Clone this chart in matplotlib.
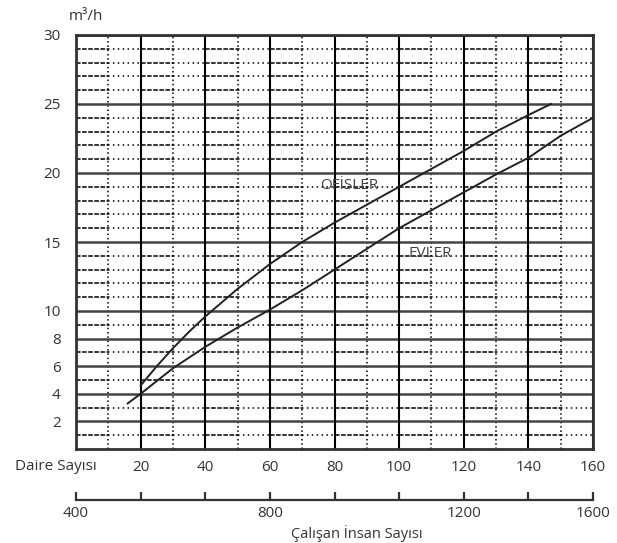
import numpy as np
import matplotlib
matplotlib.use('Agg')
from matplotlib import pyplot as plt

# Values
daire_ticks = [20, 40, 60, 80, 100, 120, 140, 160]
y_ticks = [2, 4, 6, 8, 10, 15, 20, 25, 30]
calisan_values = [400, 800, 1200, 1600]
calisan_at_daire = [0, 60, 120, 160]

ofis_x = [20, 25, 30, 35, 40, 50, 60, 70, 80, 100, 110, 120, 130, 140, 147]
ofis_y = [4.6, 6.0, 7.3, 8.5, 9.6, 11.6, 13.4, 15.0, 16.4, 19.0, 20.3, 21.6, 23.0, 24.2, 25.0]

ev_x = [16, 20, 30, 40, 50, 60, 70, 80, 100, 110, 120, 130, 140, 150, 160]
ev_y = [3.3, 4.0, 5.85, 7.4, 8.8, 10.1, 11.5, 13.0, 16.0, 17.3, 18.6, 19.9, 21.1, 22.7, 24.0]

plt.rcParams['font.family'] = ['Open Sans', 'DejaVu Sans']
txt = '#333333'
fs = 11

W, H = 617, 543
fig = plt.figure(figsize=(W / 100, H / 100), dpi=100)
left, right, top, bottom = 76, 593, 35, 449
ax = fig.add_axes([left / W, 1 - bottom / H, (right - left) / W, (bottom - top) / H])
ax.set_xlim(0, 160)
ax.set_ylim(0, 30)

# minor horizontal lines: dashed / dotted in alternating 10-unit blocks
minor_y = [v for v in range(1, 30) if v not in y_ticks]
for yv in minor_y:
    for x0 in range(0, 160, 20):
        ax.plot([x0, x0 + 10], [yv, yv], color='black', lw=1.1,
                linestyle=(0, (3, 1)), zorder=1)
        ax.plot([x0 + 10, x0 + 20], [yv, yv], color='black', lw=1.1,
                linestyle=(0, (1, 2.2)), zorder=1)

# minor vertical lines
for xv in range(10, 160, 20):
    ax.axvline(xv, color='black', lw=1.1, linestyle=(0, (1, 1.8)), zorder=1)

# major lines
for yv in y_ticks:
    ax.axhline(yv, color='#444444', lw=1.8, zorder=2)
for xv in daire_ticks:
    ax.axvline(xv, color='black', lw=1.5, zorder=2)

ax.plot(ofis_x, ofis_y, color='#222222', lw=1.4, zorder=3)
ax.plot(ev_x, ev_y, color='#222222', lw=1.4, zorder=3)

ax.text(84.5, 19.1, 'OFİSLER', color='#444444', fontsize=fs,
        ha='center', va='center', zorder=4)
ax.text(109.5, 14.2, 'EVLER', color='#444444', fontsize=fs,
        ha='center', va='center', zorder=4)

for s in ax.spines.values():
    s.set_linewidth(2)
    s.set_color('#333333')

ax.set_xticks(daire_ticks)
ax.set_xticklabels([str(v) for v in daire_ticks], color=txt, fontsize=fs)
ax.set_yticks(y_ticks)
ax.set_yticklabels([str(v) for v in y_ticks], color=txt, fontsize=fs)
ax.tick_params(axis='both', length=0)
ax.tick_params(axis='x', pad=8)
ax.tick_params(axis='y', pad=11)

fig.text(56 / W, 1 - 467 / H, 'Daire Sayısı', color=txt, fontsize=fs,
         ha='center', va='center')
fig.text(86 / W, 1 - 17 / H, 'm³/h', color=txt, fontsize=fs,
         ha='center', va='center')

# secondary scale (Çalışan İnsan Sayısı)
ax2 = fig.add_axes([left / W, 1 - 500 / H, (right - left) / W, 0.0001])
ax2.set_xlim(0, 160)
ax2.set_yticks([])
for k in ['top', 'left', 'right']:
    ax2.spines[k].set_visible(False)
ax2.spines['bottom'].set_linewidth(1.6)
ax2.spines['bottom'].set_color('#333333')
ax2.patch.set_visible(False)
ax2.set_xticks([0] + daire_ticks)
labels = []
for xv in [0] + daire_ticks:
    labels.append(str(calisan_values[calisan_at_daire.index(xv)]) if xv in calisan_at_daire else '')
ax2.set_xticklabels(labels, color=txt, fontsize=fs)
ax2.tick_params(axis='x', direction='in', length=6, width=1.6, pad=4, color='#333333')

fig.text(357 / W, 1 - 534 / H, 'Çalışan İnsan Sayısı', color=txt, fontsize=10.5,
         ha='center', va='center')

fig.savefig('out.png', dpi=100, facecolor='white')
